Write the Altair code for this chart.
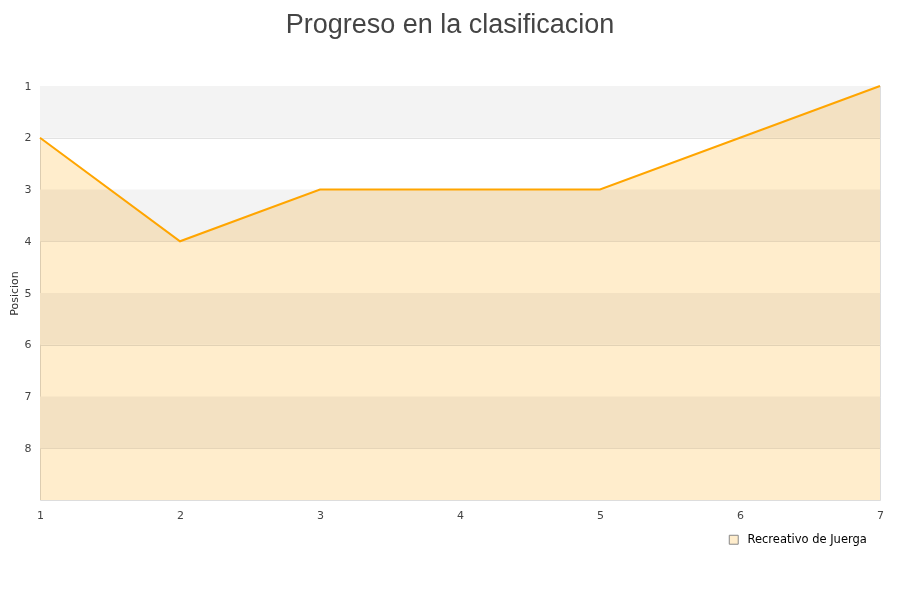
import altair as alt
import pandas as pd

jornadas = [1, 2, 3, 4, 5, 6, 7]
posiciones = [2, 4, 3, 3, 3, 2, 1]
equipo = "Recreativo de Juerga"
band_start = [1, 3, 5, 7]
band_end = [2, 4, 6, 8]
y_ticks = [1, 2, 3, 4, 5, 6, 7, 8]
y_domain = [1, 9]

df = pd.DataFrame({"jornada": jornadas, "pos": posiciones, "equipo": [equipo] * len(jornadas),
                   "base": [y_domain[1]] * len(jornadas)})
bands = pd.DataFrame({"y": band_start, "y2": band_end,
                      "x": [min(jornadas)] * len(band_start), "x2": [max(jornadas)] * len(band_start)})

xscale = alt.Scale(domain=[min(jornadas), max(jornadas)], nice=False, zero=False)
yscale = alt.Scale(domain=y_domain, reverse=True, nice=False, zero=False)

xaxis = alt.Axis(values=jornadas, format="d", title=None, grid=False, domain=False, ticks=False,
                 labelPadding=9, labelFlush=False, labelFont="DejaVu Sans", labelFontSize=11,
                 labelColor="#444")
yaxis = alt.Axis(values=y_ticks, format="d", title="Posicion", grid=True, gridColor="#e2e2e2",
                 domain=False, ticks=False, labelPadding=9, labelFont="DejaVu Sans",
                 labelFontSize=11, labelColor="#444", titleFont="DejaVu Sans", titleFontSize=11,
                 titleFontWeight="normal", titleColor="#333", titlePadding=5)

band_layer = alt.Chart(bands).mark_rect(color="#f3f3f3").encode(
    x=alt.X("x:Q", scale=xscale, axis=xaxis),
    x2="x2:Q",
    y=alt.Y("y:Q", scale=yscale, axis=yaxis),
    y2="y2:Q",
)

area = alt.Chart(df).mark_area(blend="multiply", fillOpacity=1).encode(
    x=alt.X("jornada:Q", scale=xscale),
    y=alt.Y("pos:Q", scale=yscale),
    y2="base:Q",
    fill=alt.Fill("equipo:N", scale=alt.Scale(range=["#ffedcc"]),
                  legend=alt.Legend(title=None, orient="none", legendX=688, legendY=448,
                                    symbolType="square", symbolSize=80,
                                    symbolStrokeColor="#888", symbolStrokeWidth=1,
                                    labelFont="DejaVu Sans", labelFontSize=11.5,
                                    labelColor="#000", labelOffset=8)),
)

line = alt.Chart(df).mark_line(color="orange", strokeWidth=2).encode(
    x=alt.X("jornada:Q", scale=xscale),
    y=alt.Y("pos:Q", scale=yscale),
)

chart = alt.layer(band_layer, area, line).properties(
    width=840, height=414,
    title=alt.TitleParams("Progreso en la clasificacion", font="Liberation Sans", fontSize=27,
                          fontWeight="normal", color="#444", anchor="middle", offset=41, dx=-10),
    autosize=alt.AutoSizeParams(type="none"),
    padding={"left": 32, "top": 78, "right": 12, "bottom": 92},
).configure_view(stroke="#dddddd", strokeWidth=1)

chart.save("out.html", embed_options={"renderer": "svg", "actions": False})
